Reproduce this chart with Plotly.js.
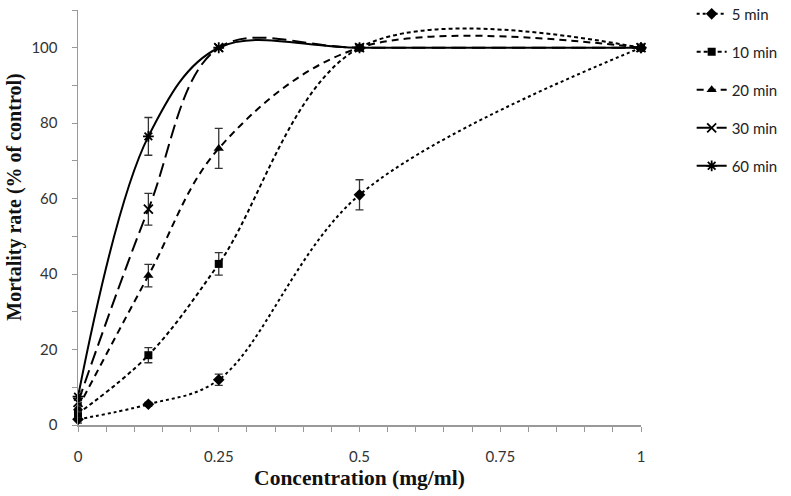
<!DOCTYPE html>
<html><head><meta charset="utf-8">
<script src="https://cdn.plot.ly/plotly-3.0.1.min.js"></script>
<style>html,body{margin:0;padding:0;background:#fff}#c{width:791px;height:496px}</style>
</head><body><div id="c"></div>
<script>
const concentration = [0, 0.125, 0.25, 0.5, 1];
const seriesNames = ["5 min", "10 min", "20 min", "30 min", "60 min"];
const mort5 = [1.5, 5.5, 12, 61, 100];
const mort10 = [3, 18.5, 42.7, 100, 100];
const mort20 = [4.5, 39.6, 73.3, 100, 100];
const mort30 = [6, 57.2, 100, 100, 100];
const mort60 = [7.5, 76.5, 100, 100, 100];
const err5 = [1, 0.5, 1.5, 4, 0.8];
const err10 = [1, 2, 3, 0, 0.8];
const err20 = [1, 3, 5.3, 0, 0.8];
const err30 = [1, 4.2, 0, 0, 0.8];
const err60 = [1.5, 5, 0, 0, 0.8];
const xTicks = [0, 0.25, 0.5, 0.75, 1];
const xTickText = ["0", "0.25", "0.5", "0.75", "1"];
const yTicks = [0, 20, 40, 60, 80, 100];
const xTitle = "Concentration (mg/ml)";
const yTitle = "Mortality rate (% of control)";

const values = [mort5, mort10, mort20, mort30, mort60];
const errors = [err5, err10, err20, err30, err60];
const dashes = ["dot", "4px,3px", "7px,5px", "14px,6px", "solid"];
const symbols = ["diamond", "square", "triangle-up", "x-thin-open", "asterisk-open"];
const sizes = [9, 8, 9, 9, 9];

const traces = values.map((v, i) => ({
  x: concentration, y: v, name: seriesNames[i], type: "scatter", mode: "lines+markers",
  legendgroup: "g" + i,
  line: {color: "#000", width: 2, dash: dashes[i], shape: "spline", smoothing: 1},
  marker: {symbol: symbols[i], size: sizes[i], color: "#000", line: {color: "#000", width: (i >= 3) ? 1.8 : 0}},
  error_y: {type: "data", array: errors[i], visible: true, color: "#333", thickness: 1.3, width: 4},
  cliponaxis: false
}));

const serif = "'Liberation Serif', 'Times New Roman', serif";
const sans = "Lato, 'Open Sans', sans-serif";

const layout = {
  width: 791, height: 496,
  margin: {l: 78, r: 150, t: 10, b: 71, autoexpand: false},
  paper_bgcolor: "#fff", plot_bgcolor: "#fff",
  showlegend: true,
  legend: {x: 1.09, y: 1.03, xanchor: "left", yanchor: "top", tracegroupgap: 15.5,
    font: {family: sans, size: 15, color: "#222"}, bgcolor: "rgba(0,0,0,0)"},
  xaxis: {
    range: [0, 1], tickvals: xTicks, ticktext: xTickText, showgrid: false, zeroline: false,
    showline: true, linecolor: "#999", linewidth: 1.5, ticks: "outside", ticklen: 5, tickcolor: "#999",
    ticklabelstandoff: 12,
    minor: {dtick: 0.05, ticks: "outside", ticklen: 5, tickcolor: "#999", showgrid: false},
    tickfont: {family: sans, size: 15, color: "#333"},
    title: {text: xTitle, font: {family: serif, size: 21.5, color: "#111", weight: "bold"}, standoff: 6}
  },
  yaxis: {
    range: [0, 110], tickvals: yTicks, showgrid: false, zeroline: false,
    showline: true, linecolor: "#999", linewidth: 1.5, ticks: "outside", ticklen: 5, tickcolor: "#999",
    ticklabelstandoff: 11,
    minor: {dtick: 10, ticks: "outside", ticklen: 5, tickcolor: "#999", showgrid: false},
    tickfont: {family: sans, size: 15, color: "#333"}
  },
  annotations: [{
    text: yTitle, textangle: -90, xref: "paper", yref: "paper",
    x: -0.112, y: 0.55, xanchor: "center", yanchor: "middle", showarrow: false,
    font: {family: serif, size: 20, color: "#111", weight: "bold"}
  }]
};
Plotly.newPlot("c", traces, layout, {displayModeBar: false, staticPlot: true});
</script></body></html>
